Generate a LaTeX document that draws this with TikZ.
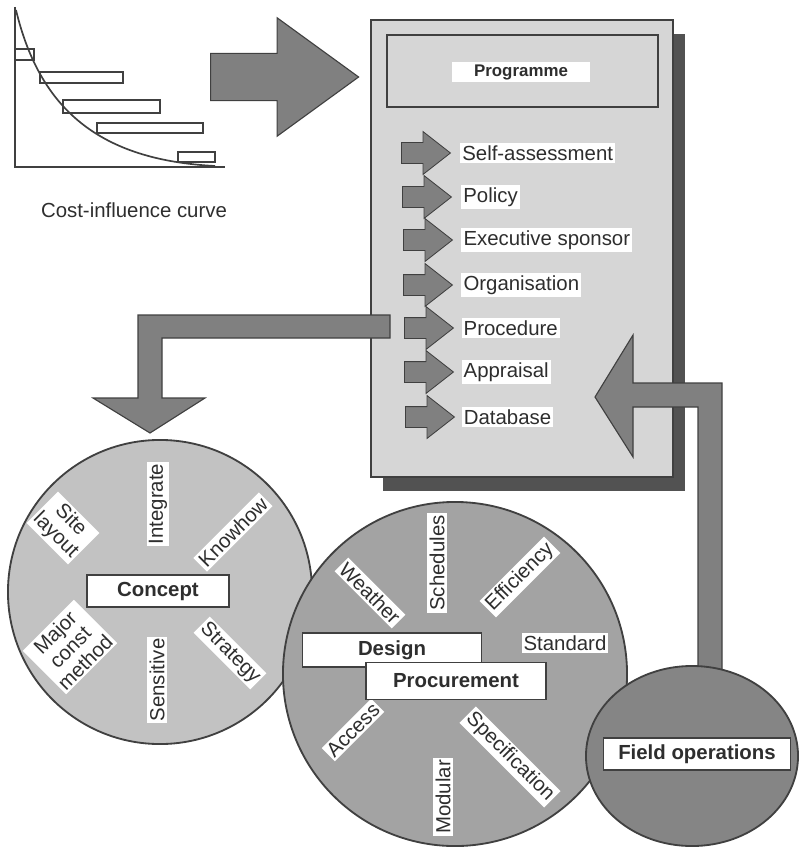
\documentclass[tikz,border=0pt]{standalone}
\usepackage{fontspec}
\setmainfont{Liberation Sans}
\usepackage{xcolor}
\usepackage{tikz}
\usetikzlibrary{shapes,arrows,positioning,shadows,calc}

\definecolor{boxgray}{gray}{0.84}
\definecolor{conceptgray}{gray}{0.76}
\definecolor{designgray}{gray}{0.64}
\definecolor{fieldgray}{gray}{0.52}
\definecolor{arrowgray}{gray}{0.50}
\definecolor{shadowgray}{gray}{0.32}
\definecolor{edgegray}{gray}{0.25}
\definecolor{inkgray}{gray}{0.18}

\newcommand{\lbl}{\fontsize{14.5}{15}\selectfont}
\newcommand{\ttl}{\fontsize{14.5}{15}\selectfont\bfseries}

\begin{document}
\begin{tikzpicture}[
    x=0.025cm, y=-0.025cm,
    item/.style={fill=white, inner sep=1.5pt, text=inkgray, font=\lbl},
    multi/.style={item, align=center},
    titlebox/.style={draw=edgegray, line width=1.3pt, fill=white, text=inkgray,
                     font=\ttl, inner sep=0pt},
    disc/.style={circle, draw=edgegray, line width=1.3pt, inner sep=0pt},
    smallarrow/.style={single arrow, draw=edgegray, fill=arrowgray, line width=0.6pt,
                       minimum height=1.225cm, inner xsep=0pt, inner ysep=0.25cm,
                       single arrow head extend=0.275cm, single arrow tip angle=76},
    bigarrow/.style={single arrow, draw=edgegray, fill=arrowgray, line width=0.8pt,
                     minimum height=3.7cm, inner xsep=0pt, inner ysep=0.575cm,
                     single arrow head extend=0.89cm, single arrow tip angle=72},
    fatarrow/.style={draw=edgegray, fill=arrowgray, line width=0.8pt, line join=miter},
    bar/.style={draw=edgegray, line width=1.4pt}
]
    \useasboundingbox (0,0) rectangle (800,854);

    % Cost-influence chart (top left)
    \draw[edgegray, line width=1.4pt] (15,7) -- (15,167) -- (225,167);
    \draw[edgegray, line width=1.2pt] (16,10) .. controls (40,110) and (100,160) .. (215,166);
    \draw[bar] (15,49) rectangle (34,60);
    \draw[bar] (40,72) rectangle (123,83);
    \draw[bar] (63,100) rectangle (160,113);
    \draw[bar] (97,123) rectangle (203,133);
    \draw[bar] (178,152) rectangle (215,162);
    \node[text=inkgray, font=\lbl] (chartname) at (134,210) {Cost-influence curve};

    \node[bigarrow, anchor=tail] (push) at (210,77) {};

    % Programme box with its shadow
    \node[draw=edgegray, line width=1.3pt, fill=boxgray,
          minimum width=7.55cm, minimum height=11.425cm,
          drop shadow={shadow xshift=0.3cm, shadow yshift=-0.35cm, opacity=1, fill=shadowgray}]
          (prog) at (522,248.5) {};
    \node[draw=edgegray, line width=1.5pt, fill=boxgray,
          minimum width=6.775cm, minimum height=1.8cm] (head) at (522.5,71) {};
    \node[fill=white, text=inkgray, font=\fontsize{12}{13}\selectfont\bfseries,
          minimum width=3.45cm, minimum height=0.5cm, inner sep=0pt]
          (progname) at (521,72) {Programme};

    % Elements of the programme
    \node[smallarrow, anchor=tail] (a1) at (401,153) {};
    \node[smallarrow, anchor=tail] (a2) at (402,197) {};
    \node[smallarrow, anchor=tail] (a3) at (403,240) {};
    \node[smallarrow, anchor=tail] (a4) at (403,285) {};
    \node[smallarrow, anchor=tail] (a5) at (404,328) {};
    \node[smallarrow, anchor=tail] (a6) at (404,372) {};
    \node[smallarrow, anchor=tail] (a7) at (405,417) {};
    \node[item, right=0.22cm of a1.tip] (self) {Self-assessment};
    \node[item, right=0.22cm of a2.tip] (policy) {Policy};
    \node[item, right=0.2cm of a3.tip] (sponsor) {Executive sponsor};
    \node[item, right=0.2cm of a4.tip] (organ) {Organisation};
    \node[item, right=0.18cm of a5.tip] (proced) {Procedure};
    \node[item, right=0.18cm of a6.tip] (apprais) {Appraisal};
    \node[item, right=0.16cm of a7.tip] (database) {Database};

    % Procedure -> concept (bent arrow)
    \draw[fatarrow] (390,315) -- (138,315) -- (138,398) -- (93,398) -- (150,433)
          -- (205,398) -- (162,398) -- (162,338) -- (390,338) -- cycle;

    % Field operations -> database (bent arrow)
    \draw[fatarrow] (595,397) -- (633,335) -- (633,383) -- (722,383) -- (722,690)
          -- (698,690) -- (698,407) -- (633,407) -- (633,457) -- cycle;

    % Concept circle
    \node[disc, fill=conceptgray, minimum size=7.6cm] (conceptdisc) at (160,592) {};
    \node[titlebox, minimum width=3.55cm, minimum height=0.8cm] (concept) at (158,591) {Concept};
    \node[item, rotate=90] (integrate) at (158,504) {Integrate};
    \node[item, rotate=45] (knowhow) at (233,532) {Knowhow};
    \node[multi, rotate=-45] (site) at (63,528) {Site\\layout};
    \node[multi, rotate=45] (major) at (70,647) {Major\\const\\method};
    \node[item, rotate=90] (sensitive) at (157,680) {Sensitive};
    \node[item, rotate=-45] (strategy) at (230,653) {Strategy};

    % Design and procurement circle
    \node[disc, fill=designgray, minimum size=8.6cm] (designdisc) at (455,674) {};
    \node[item, rotate=-45] (weather) at (370,593) {Weather};
    \node[item, rotate=90] (schedules) at (437,563) {Schedules};
    \node[item, rotate=45] (effic) at (520,577) {Efficiency};
    \node[item] (standard) at (565,643) {Standard};
    \node[item, rotate=45] (access) at (353,730) {Access};
    \node[item, rotate=90] (modular) at (443,797) {Modular};
    \node[item, rotate=-45] (spec) at (510,757) {Specification};
    \node[titlebox, minimum width=4.475cm, minimum height=0.85cm] (design) at (392,650) {Design};
    \node[titlebox, minimum width=4.5cm, minimum height=0.925cm] (procure) at (456,681) {Procurement};

    % Field operations
    \node[ellipse, draw=edgegray, line width=1.3pt, fill=fieldgray, inner sep=0pt,
          minimum width=5.3cm, minimum height=4.5cm] (fielddisc) at (692,756) {};
    \node[titlebox, minimum width=4.675cm, minimum height=0.8cm] (fieldops) at (697,754) {Field operations};
\end{tikzpicture}
\end{document}
